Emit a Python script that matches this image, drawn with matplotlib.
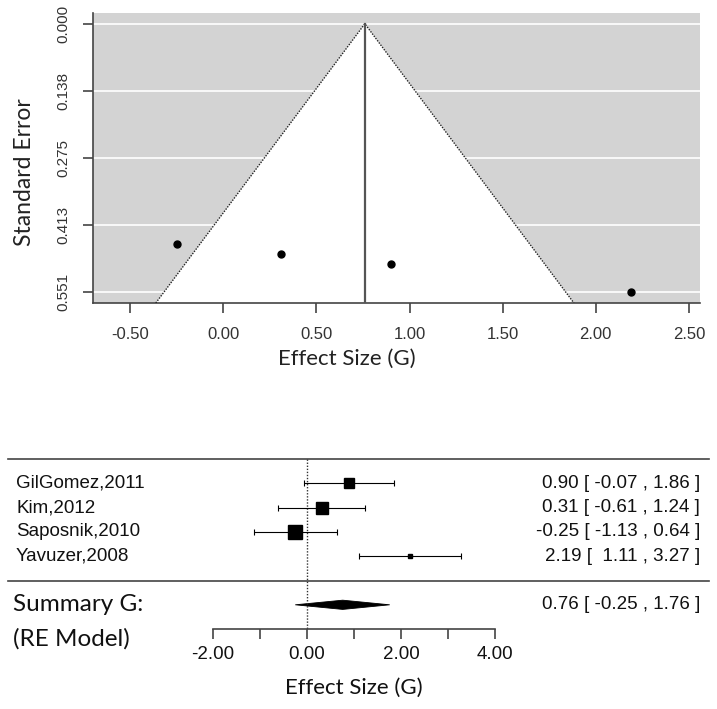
import numpy as np
import matplotlib
matplotlib.use("Agg")
import matplotlib.pyplot as plt
from matplotlib.patches import Polygon

# datos del meta-análisis
estudios = ["GilGomez,2011", "Kim,2012", "Saposnik,2010", "Yavuzer,2008"]
g = [0.90, 0.31, -0.25, 2.19]
se = [0.492, 0.472, 0.452, 0.5508]
ci_low = [-0.07, -0.61, -1.13, 1.11]
ci_high = [1.86, 1.24, 0.64, 3.27]
resumen_g = 0.76
resumen_low = -0.25
resumen_high = 1.76

ARIAL = "Liberation Sans"
CALIBRI = "Lato"

g = np.array(g)
se = np.array(se)
lo = np.array(ci_low)
hi = np.array(ci_high)

W, H = 717, 709
fig = plt.figure(figsize=(W / 100, H / 100), dpi=100)

def fx(px):
    return px / W

def fy(py):
    return 1 - py / H

# ---------------- funnel plot ----------------
ax1 = fig.add_axes([fx(93), fy(303), fx(700) - fx(93), fy(13) - fy(303)])
ax1.set_facecolor("lightgray")
se_max = se.max()
ax1.set_xlim(-0.70, 2.56)
ax1.set_ylim(se_max * 1.04, -se_max * 0.04)

yticks = np.linspace(0, se_max, 5)
for yt in yticks:
    ax1.axhline(yt, color="white", lw=1.2, zorder=1)

y_base = se_max * 1.04
funnel = Polygon([(resumen_g - 1.96 * y_base, y_base), (resumen_g, 0),
                  (resumen_g + 1.96 * y_base, y_base)],
                 closed=True, facecolor="white", edgecolor="none", zorder=2)
ax1.add_patch(funnel)
ax1.plot([resumen_g - 1.96 * y_base, resumen_g, resumen_g + 1.96 * y_base],
         [y_base, 0, y_base], ls=(0, (1, 1)), color="#222222", lw=1, zorder=3)
ax1.plot([resumen_g, resumen_g], [0, y_base], color="#555555", lw=1.6, zorder=3)
ax1.plot(g, se, "o", color="black", markersize=5, zorder=4)

ax1.set_yticks(yticks)
ax1.set_yticklabels([f"{v:.3f}" for v in yticks], rotation=90, va="center",
                    fontsize=11, family=ARIAL, color="#333333")
xt = np.arange(-0.5, 2.51, 0.5)
ax1.set_xticks(xt)
ax1.set_xticklabels([f"{v:.2f}" for v in xt], fontsize=12, family=ARIAL, color="#333333")
ax1.tick_params(axis="both", direction="out", length=7, width=1.2, color="#444444")
ax1.tick_params(axis="x", pad=10)
ax1.tick_params(axis="y", pad=9)
for s in ["top", "right"]:
    ax1.spines[s].set_visible(False)
for s in ["left", "bottom"]:
    ax1.spines[s].set_color("#444444")
    ax1.spines[s].set_linewidth(1.2)

fig.text(fx(25), fy(172), "Standard Error", rotation=90, ha="center", va="center",
         fontsize=16.5, family=CALIBRI, color="#222222")
fig.text(fx(347), fy(359), "Effect Size (G)", ha="center", va="center",
         fontsize=16, family=CALIBRI, color="#222222")

# ---------------- forest plot ----------------
# filas: estudios k..1, separador en 0, resumen en -1, eje en -2
k = len(estudios)
filas = np.arange(k, 0, -1)
ax2 = fig.add_axes([0, 0, 1, fy(405)])
px0, ppu = 307, 47.0
ax2.set_xlim(-px0 / ppu, (W - px0) / ppu)
r_top, r_px = 580.5, 24.3
ax2.set_ylim((r_top - H) / r_px, (r_top - 405) / r_px)
for s in ["top", "right", "left"]:
    ax2.spines[s].set_visible(False)
ax2.set_yticks([])
ax2.patch.set_alpha(0)

# lineas horizontales
ax2.plot([fx(8), fx(709)], [k + 1, k + 1], transform=ax2.get_yaxis_transform(),
         color="#444444", lw=1.2)
ax2.plot([fx(8), fx(709)], [0, 0], transform=ax2.get_yaxis_transform(),
         color="#444444", lw=1.2)
ax2.plot([0, 0], [k + 1, -2], ls=(0, (1, 1.2)), color="#333333", lw=1)

# tamaño de los cuadrados según pesos (1/vi), como metafor
wi = 1 / se ** 2
psize = (wi - wi.min()) / (wi.max() - wi.min()) + 0.5
for yi, gi, l, h, ps in zip(filas, g, lo, hi, psize):
    ax2.errorbar([gi], [yi], xerr=[[gi - l], [h - gi]], fmt="none", ecolor="black",
                 elinewidth=0.8, capsize=2, capthick=0.8)
    ax2.plot(gi, yi, "s", color="black", markersize=6.6 * ps)

diamante = Polygon([(resumen_low, -1), (resumen_g, -1 + 0.19), (resumen_high, -1),
                    (resumen_g, -1 - 0.19)], closed=True, facecolor="black",
                   edgecolor="black", lw=0.6)
ax2.add_patch(diamante)

# textos
for yi, nombre in zip(filas, estudios):
    ax2.text(fx(16), yi, nombre, transform=ax2.get_yaxis_transform(), ha="left",
             va="center", fontsize=13.5, family=ARIAL, color="#111111")
for yi, gi, l, h in zip(filas, g, lo, hi):
    ax2.text(fx(700), yi, f"{gi:.2f} [{l:6.2f} , {h:.2f} ]",
             transform=ax2.get_yaxis_transform(), ha="right", va="center",
             fontsize=13.5, family=ARIAL, color="#111111")
ax2.text(fx(700), -1, f"{resumen_g:.2f} [{resumen_low:6.2f} , {resumen_high:.2f} ]",
         transform=ax2.get_yaxis_transform(), ha="right", va="center",
         fontsize=13.5, family=ARIAL, color="#111111")
ax2.text(fx(13), -1, "Summary G:", transform=ax2.get_yaxis_transform(), ha="left",
         va="center", fontsize=17.5, family=CALIBRI, color="#111111")
ax2.text(fx(13), -2.4, "(RE Model)", transform=ax2.get_yaxis_transform(), ha="left",
         va="center", fontsize=17.5, family=CALIBRI, color="#111111")

# eje x del forest
ax2.spines["bottom"].set_position(("data", -2))
ax2.spines["bottom"].set_bounds(-2, 4)
ax2.spines["bottom"].set_color("#444444")
ax2.spines["bottom"].set_linewidth(1.2)
ft = np.arange(-2, 5, 1)
ax2.set_xticks(ft)
ax2.set_xticklabels([f"{v:.2f}" if v % 2 == 0 else "" for v in ft],
                    fontsize=13.5, family=ARIAL, color="#111111")
ax2.tick_params(axis="x", direction="out", length=7, width=1.2, color="#444444", pad=5)
fig.text(fx(px0 + ppu * 1.0), fy(688), "Effect Size (G)", ha="center", va="center",
         fontsize=16, family=CALIBRI, color="#111111")

fig.savefig("out.png", dpi=100)
